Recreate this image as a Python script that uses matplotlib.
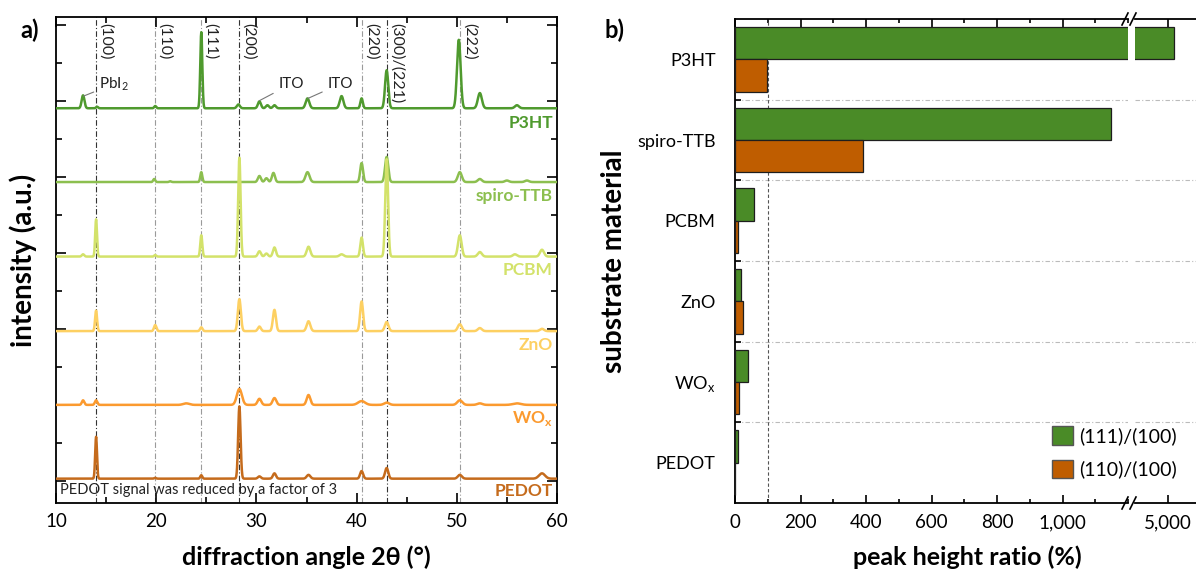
import numpy as np
import matplotlib.pyplot as plt
from matplotlib.lines import Line2D
from matplotlib.patches import Patch
from matplotlib.ticker import MultipleLocator

plt.rcParams['font.family'] = ['Lato', 'DejaVu Sans']

# ---- panel a) : XRD peaks (position 2theta, height, sigma) ----
p3ht_peaks = [(12.7, 0.17, 0.14), (14.1, 0.02, 0.1), (19.9, 0.03, 0.1), (24.5, 1.00, 0.10),
              (28.2, 0.05, 0.15), (30.3, 0.09, 0.15), (31.1, 0.04, 0.15), (31.8, 0.04, 0.15),
              (35.1, 0.13, 0.18), (38.5, 0.16, 0.18), (40.5, 0.13, 0.12), (43.0, 0.50, 0.16),
              (50.2, 0.90, 0.18), (52.3, 0.20, 0.20), (56.0, 0.04, 0.2)]
spiro_peaks = [(19.8, 0.04, 0.1), (21.4, 0.01, 0.1), (24.5, 0.13, 0.1), (30.3, 0.08, 0.15),
               (31.0, 0.05, 0.15), (31.7, 0.12, 0.15), (35.1, 0.13, 0.2), (40.5, 0.25, 0.14),
               (43.0, 0.33, 0.16), (50.3, 0.13, 0.2), (52.3, 0.04, 0.2), (55.0, 0.02, 0.2),
               (57.0, 0.02, 0.2)]
pcbm_peaks = [(12.7, 0.03, 0.12), (14.0, 0.49, 0.09), (19.9, 0.02, 0.1), (24.5, 0.28, 0.1),
              (28.3, 1.30, 0.12), (30.3, 0.07, 0.15), (31.0, 0.04, 0.15), (31.8, 0.12, 0.15),
              (35.2, 0.13, 0.18), (38.5, 0.03, 0.2), (40.5, 0.25, 0.13), (43.0, 1.28, 0.14),
              (50.3, 0.28, 0.18), (52.3, 0.06, 0.2), (55.8, 0.03, 0.2), (58.5, 0.09, 0.2)]
zno_peaks = [(14.0, 0.27, 0.1), (19.9, 0.08, 0.12), (24.5, 0.05, 0.12), (28.3, 0.42, 0.15),
             (30.3, 0.06, 0.15), (31.8, 0.28, 0.15), (35.2, 0.13, 0.18), (40.5, 0.39, 0.15),
             (43.0, 0.12, 0.18), (50.3, 0.09, 0.2), (52.3, 0.04, 0.2), (58.5, 0.03, 0.2)]
wox_peaks = [(12.7, 0.06, 0.12), (14.0, 0.06, 0.12), (23.0, 0.02, 0.3), (28.3, 0.21, 0.25),
             (30.3, 0.08, 0.18), (31.8, 0.09, 0.18), (35.2, 0.13, 0.18), (40.5, 0.05, 0.35),
             (43.0, 0.03, 0.25), (50.3, 0.06, 0.25), (52.3, 0.02, 0.25), (56.0, 0.02, 0.4)]
pedot_peaks = [(14.0, 0.55, 0.09), (19.9, 0.01, 0.1), (24.5, 0.045, 0.1), (28.3, 0.95, 0.12),
               (30.3, 0.03, 0.15), (31.8, 0.07, 0.15), (35.2, 0.05, 0.18), (40.5, 0.10, 0.15),
               (43.0, 0.14, 0.16), (50.3, 0.05, 0.2), (58.5, 0.07, 0.3)]

sample_names = ['P3HT', 'spiro-TTB', 'PCBM', 'ZnO', r'WO$_\mathregular{x}$', 'PEDOT']
sample_peaks = [p3ht_peaks, spiro_peaks, pcbm_peaks, zno_peaks, wox_peaks, pedot_peaks]
sample_offsets = [3.9, 2.93, 1.95, 0.97, 0.0, -0.97]
sample_colors = ['#4f9a2e', '#8cbf4f', '#d3e26a', '#fdd062', '#fb9a2f', '#c56b1c']
label_y = [3.70, 2.74, 1.78, 0.79, -0.18, -1.13]

ref_pos = [14.0, 19.9, 24.5, 28.3, 40.5, 43.0, 50.3]
ref_labels = ['(100)', '(110)', '(111)', '(200)', '(220)', '(300)/(221)', '(222)']
ref_dark = [True, False, False, True, False, True, False]

# ---- panel b) : peak height ratios ----
materials = ['P3HT', 'spiro-TTB', 'PCBM', 'ZnO', r'WO$_\mathregular{x}$', 'PEDOT']
ratio_111 = [5020, 1147, 59, 17, 40, 9]
ratio_110 = [97, 390, 10, 24, 13, 1]

W, H = 1196, 572
fig = plt.figure(figsize=(W / 100, H / 100), dpi=100)


def px(x0, y0, x1, y1):
    return [x0 / W, 1 - y1 / H, (x1 - x0) / W, (y1 - y0) / H]


# ================= a) =================
ax = fig.add_axes(px(56, 17, 557, 503))
tt = np.linspace(10, 60, 3001)

for xr, dark in zip(ref_pos, ref_dark):
    ax.axvline(xr, color='#333333' if dark else '#9a9a9a', lw=0.8,
               ls=(0, (5, 2, 1, 2)), zorder=1)

for name, peaks, off, col, ly in zip(sample_names, sample_peaks, sample_offsets,
                                     sample_colors, label_y):
    y = np.zeros_like(tt)
    for p, h, s in peaks:
        y += h * np.exp(-0.5 * ((tt - p) / s) ** 2)
    ax.plot(tt, y + off, color=col, lw=1.8, zorder=3)
    ax.text(59.6, ly, name, color=col, fontsize=12.5, fontweight='bold',
            ha='right', va='center')

for xr, lab in zip(ref_pos, ref_labels):
    ax.text(xr + 0.25, 5.02, lab, rotation=270, ha='left', va='top',
            fontsize=11.5, color='#222222')

ax.annotate(r'PbI$_\mathregular{2}$', xy=(12.75, 4.06), xytext=(14.3, 4.22), fontsize=11,
            va='center', ha='left', color='#222222',
            arrowprops=dict(arrowstyle='-', color='#777777', lw=0.8, shrinkA=2, shrinkB=0))
ax.annotate('ITO', xy=(30.3, 4.0), xytext=(32.2, 4.22), fontsize=11,
            va='center', ha='left', color='#222222',
            arrowprops=dict(arrowstyle='-', color='#777777', lw=0.8, shrinkA=2, shrinkB=0))
ax.annotate('ITO', xy=(35.15, 4.03), xytext=(37.1, 4.22), fontsize=11,
            va='center', ha='left', color='#222222',
            arrowprops=dict(arrowstyle='-', color='#777777', lw=0.8, shrinkA=2, shrinkB=0))

ax.text(10.4, -1.12, 'PEDOT signal was reduced by a factor of 3', fontsize=10.5,
        color='#222222', ha='left', va='center')

ax.set_xlim(10, 60)
ax.set_ylim(-1.29, 5.1)
ax.xaxis.set_major_locator(MultipleLocator(10))
ax.xaxis.set_minor_locator(MultipleLocator(5))
ax.yaxis.set_major_locator(MultipleLocator(1))
ax.yaxis.set_minor_locator(MultipleLocator(0.5))
ax.set_yticklabels([])
ax.tick_params(which='both', direction='in', top=True, right=True, labelsize=13.5,
               width=1.2)
ax.tick_params(axis='x', which='major', pad=7)
ax.tick_params(which='major', length=7)
ax.tick_params(which='minor', length=4)
for sp in ax.spines.values():
    sp.set_linewidth(1.3)
ax.set_xlabel('diffraction angle 2θ (°)', fontsize=18, fontweight='bold', labelpad=11)
ax.set_ylabel('intensity (a.u.)', fontsize=20, fontweight='bold', labelpad=10)
fig.text(30 / W, 1 - 30 / H, 'a)', fontsize=17, fontweight='bold', ha='center', va='center')

# ================= b) =================
green, orange = '#4a8b27', '#bf5d00'
axl = fig.add_axes(px(735, 19, 1128, 503))
axr = fig.add_axes(px(1135, 19, 1212, 503))
ypos = np.arange(len(materials))

for a in (axl, axr):
    a.barh(ypos - 0.2, ratio_111, height=0.4, color=green, edgecolor='#1e1e1e', lw=0.9, zorder=3)
    a.barh(ypos + 0.2, ratio_110, height=0.4, color=orange, edgecolor='#1e1e1e', lw=0.9, zorder=3)
    for yb in ypos[:-1] + 0.5:
        a.axhline(yb, color='#bbbbbb', lw=0.8, ls=(0, (4, 2, 1, 2)), zorder=1)
    a.set_ylim(len(materials) - 0.5, -0.5)
    a.tick_params(axis='x', which='both', direction='in', top=True, labelsize=13.5,
                  width=1.2, pad=8)
    a.tick_params(axis='x', which='major', length=6)
    a.tick_params(axis='x', which='minor', length=3)
    for sp in a.spines.values():
        sp.set_linewidth(1.3)

axl.axvline(100, color='#555555', lw=0.8, ls=(0, (3, 2)), zorder=2)
axl.set_xlim(0, 1200)
axl.set_xticks([0, 200, 400, 600, 800, 1000])
axl.set_xticklabels(['0', '200', '400', '600', '800', '1,000'])
axl.xaxis.set_minor_locator(MultipleLocator(100))
axl.set_yticks(ypos)
axl.set_yticklabels(materials, fontsize=13)
axl.set_yticks(ypos[:-1] + 0.5, minor=True)
axl.tick_params(axis='y', which='major', length=0, pad=14)
axl.tick_params(axis='y', which='minor', direction='in', length=4, width=1.2)
axl.spines['right'].set_visible(False)
axl.set_xlabel('peak height ratio (%)', fontsize=18, fontweight='bold')
axl.xaxis.set_label_coords((967 - 735) / (1128 - 735), -0.088)
axl.set_ylabel('substrate material', fontsize=20, fontweight='bold', labelpad=7)

axr.set_xlim(4900, 5135)
axr.set_xticks([5000])
axr.set_xticklabels(['5,000'])
axr.set_yticks([])
axr.spines['left'].set_visible(False)

fig.text(615 / W, 1 - 30 / H, 'b)', fontsize=17, fontweight='bold', ha='center', va='center')

# break marks
for yb in (19, 503):
    for xb in (1125, 1133):
        fig.add_artist(Line2D([(xb - 3) / W, (xb + 3) / W],
                              [1 - (yb + 6) / H, 1 - (yb - 6) / H],
                              color='black', lw=1.2, transform=fig.transFigure))

handles = [Patch(facecolor=green, edgecolor='#555555', label='(111)/(100)'),
           Patch(facecolor=orange, edgecolor='#555555', label='(110)/(100)')]
fig.legend(handles=handles, loc='lower right', bbox_to_anchor=(1194 / W, 1 - 496 / H),
           frameon=False, fontsize=14, handlelength=1.1, handleheight=1.1,
           handletextpad=0.3, labelspacing=0.75)

fig.savefig('out.png', dpi=100)
